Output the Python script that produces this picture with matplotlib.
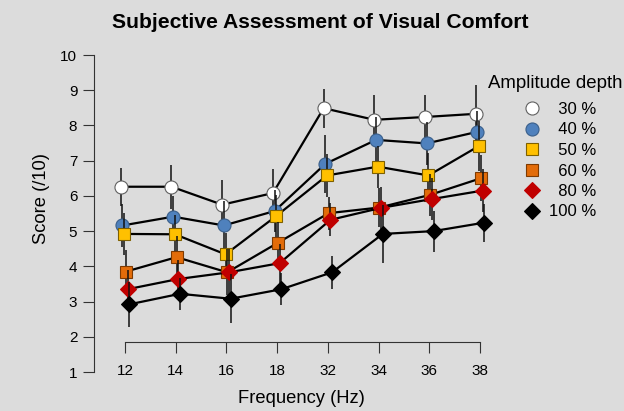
import numpy as np
import matplotlib
matplotlib.use('Agg')
import matplotlib.pyplot as plt
from matplotlib.lines import Line2D

plt.rcParams['font.family'] = ['Liberation Sans', 'DejaVu Sans']

freqs = ['12', '14', '16', '18', '32', '34', '36', '38']
depths = ['30', '40', '50', '60', '80', '100']

score_30 = [6.26, 6.26, 5.75, 6.08, 8.49, 8.16, 8.24, 8.33]
score_40 = [5.16, 5.41, 5.16, 5.57, 6.91, 7.59, 7.49, 7.82]
score_50 = [4.92, 4.91, 4.34, 5.43, 6.58, 6.83, 6.58, 7.42]
score_60 = [3.85, 4.26, 3.83, 4.67, 5.51, 5.67, 6.03, 6.50]
score_80 = [3.35, 3.64, 3.83, 4.09, 5.32, 5.66, 5.91, 6.15]
score_100 = [2.92, 3.22, 3.08, 3.35, 3.83, 4.92, 5.00, 5.24]

err_30 = [0.54, 0.62, 0.70, 0.69, 0.55, 0.71, 0.63, 0.82]
err_40 = [0.60, 0.60, 0.70, 0.60, 0.82, 0.65, 0.60, 0.60]
err_50 = [0.60, 0.55, 0.60, 0.60, 0.60, 0.60, 0.65, 0.70]
err_60 = [0.60, 0.60, 0.65, 0.60, 0.47, 0.55, 0.60, 0.65]
err_80 = [0.55, 0.55, 0.65, 0.55, 0.47, 0.60, 0.60, 0.60]
err_100 = [0.64, 0.46, 0.70, 0.45, 0.47, 0.83, 0.58, 0.54]

scores = [score_30, score_40, score_50, score_60, score_80, score_100]
errors = [err_30, err_40, err_50, err_60, err_80, err_100]

# marker styles per series
markers = ['o', 'o', 's', 's', 'D', 'D']
face = ['white', '#4f81bd', '#ffc000', '#e36c09', '#c00000', 'black']
edge = ['#606060', '#3a5f8a', '#7f6000', '#7f3a00', '#c00000', 'black']
msize = [9.4, 9.4, 8.2, 8.2, 7.8, 7.8]

bg = '#dcdcdc'
fig = plt.figure(figsize=(6.24, 4.11), dpi=100, facecolor=bg)
ax = fig.add_axes([94 / 624, 39 / 411, 406 / 624, 317 / 411])
ax.set_facecolor(bg)

x = np.arange(len(freqs))
offsets = np.linspace(-0.083, 0.083, len(depths))

handles = []
for i, d in enumerate(depths):
    ax.errorbar(x + offsets[i], scores[i], yerr=errors[i], fmt='-',
                color='black', lw=1.6, ecolor='#111111', elinewidth=1.1,
                capsize=0, marker=markers[i], ms=msize[i],
                mfc=face[i], mec=edge[i], mew=0.8, zorder=3 + i)
    label = ('  ' * (3 - len(d))) + d + ' %'
    handles.append(Line2D([], [], ls='none', marker=markers[i],
                          ms=msize[i], mfc=face[i], mec=edge[i],
                          mew=0.8, label=label))

ax.set_xlim(-0.611, 7.394)
ax.set_ylim(1, 10)

for s in ['top', 'right']:
    ax.spines[s].set_visible(False)
ax.spines['left'].set_bounds(1, 10)
ax.spines['left'].set_color('#333333')
ax.spines['bottom'].set_position(('data', 1.85))
ax.spines['bottom'].set_bounds(0, 7)
ax.spines['bottom'].set_color('#333333')

ax.set_xticks(x)
ax.set_xticklabels(freqs)
ax.set_yticks(range(1, 11))
ax.tick_params(axis='x', length=8, pad=8, labelsize=11, color='#333333')
ax.tick_params(axis='y', length=8, pad=4, labelsize=11, color='#333333')

fig.text(0.514, 0.946, 'Subjective Assessment of Visual Comfort',
         ha='center', va='center', fontsize=15.2, fontweight='bold')
fig.text(0.483, 0.03, 'Frequency (Hz)', ha='center', va='center', fontsize=13.2)
fig.text(0.067, 0.518, 'Score (/10)', ha='center', va='center',
         rotation=90, fontsize=13.2)

fig.text(488 / 624, 1 - 83 / 411, 'Amplitude depth', ha='left', va='center',
         fontsize=13.4)
ax.legend(handles=handles, loc='upper left',
          bbox_to_anchor=(524 / 624, 1 - 102 / 411),
          bbox_transform=fig.transFigure, fontsize=12,
          frameon=False, borderpad=0, borderaxespad=0,
          handlelength=1.0, handletextpad=0.5, labelspacing=0.33)

fig.savefig('out.png', dpi=100, facecolor=bg)
